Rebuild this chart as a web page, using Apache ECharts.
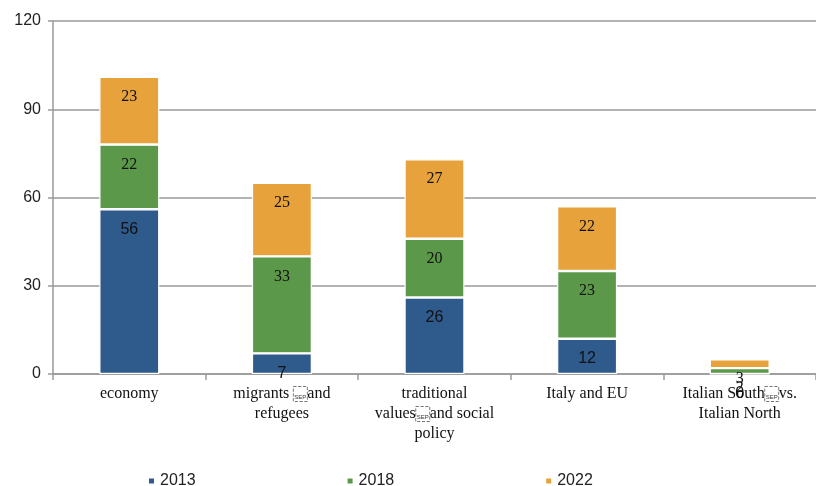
<!DOCTYPE html>
<html>
<head>
<meta charset="utf-8">
<script src="https://cdn.jsdelivr.net/npm/echarts@6/dist/echarts.min.js"></script>
<style>
  html, body { margin: 0; padding: 0; background: #ffffff; }
  #chart { width: 816px; height: 486px; }
</style>
</head>
<body>
<div id="chart"></div>
<script>
// Topic categories; \u2028 is the line-separator character kept in the source labels
const categories = [
  'economy',
  'migrants \u2028and\nrefugees',
  'traditional\nvalues\u2028and social\npolicy',
  'Italy and EU',
  'Italian South\u2028vs.\nItalian North'
];
const years = ['2013', '2018', '2022'];
const values2013 = [56, 7, 26, 12, 0];
const values2018 = [22, 33, 20, 23, 2];
const values2022 = [23, 25, 27, 22, 3];
const yTicks = [0, 30, 60, 90, 120];

const colors = ['#2E5A8C', '#5C984A', '#E8A23C'];
const seriesValues = [values2013, values2018, values2022];
const labelFonts = ['Liberation Sans', 'Liberation Serif', 'Liberation Serif'];

// The separator character is shown as a small dashed "SEP" box, like a missing-glyph placeholder
function axisLabelText(name) {
  return name.split('\n').map(line =>
    line.split('\u2028').map(part => part ? '{t|' + part + '}' : '').join('{sep|SEP}')
  ).join('\n');
}

const chart = echarts.init(document.getElementById('chart'), null, { renderer: 'canvas' });

const series = years.map((y, i) => ({
  name: y,
  type: 'bar',
  stack: 'total',
  barWidth: 60,
  data: seriesValues[i],
  itemStyle: { color: colors[i], borderColor: '#ffffff', borderWidth: 1.2 },
  label: {
    show: true,
    position: 'insideTop',
    distance: 12,
    color: '#111111',
    fontFamily: labelFonts[i],
    fontSize: 16
  },
  emphasis: { disabled: true }
}));

chart.setOption({
  animation: false,
  backgroundColor: '#ffffff',
  color: colors,
  grid: { left: 53, right: -4, top: 21, bottom: 112, containLabel: false },
  legend: {
    top: 468,
    left: 142,
    itemWidth: 7,
    itemHeight: 7,
    itemGap: 150,
    icon: 'rect',
    textStyle: { fontFamily: 'Liberation Sans', fontSize: 16, color: '#222222' },
    data: years
  },
  xAxis: {
    type: 'category',
    data: categories,
    axisLine: { lineStyle: { color: '#9a9a9a', width: 1.5 } },
    axisTick: { show: true, alignWithLabel: false, length: 6, lineStyle: { color: '#9a9a9a', width: 1.5 } },
    axisLabel: {
      interval: 0,
      margin: 10,
      formatter: axisLabelText,
      rich: {
        t: {
          fontFamily: 'Liberation Serif',
          fontSize: 16,
          lineHeight: 20,
          color: '#111111'
        },
        sep: {
          fontFamily: 'Liberation Sans',
          fontSize: 6,
          lineHeight: 6,
          color: '#333333',
          borderColor: '#555555',
          borderWidth: 0.8,
          borderType: 'dashed',
          padding: [8, 1, 1, 1],
          verticalAlign: 'middle'
        }
      }
    }
  },
  yAxis: {
    type: 'value',
    min: yTicks[0],
    max: yTicks[yTicks.length - 1],
    interval: 30,
    axisLine: { show: true, lineStyle: { color: '#9a9a9a', width: 1.5 } },
    axisTick: { show: true, inside: false, length: 5, lineStyle: { color: '#9a9a9a', width: 1.5 } },
    axisLabel: { margin: 12, fontFamily: 'Liberation Sans', fontSize: 16, color: '#222222' },
    splitLine: { show: true, lineStyle: { color: '#9a9a9a', width: 1.5 } }
  },
  series: series
});
</script>
</body>
</html>
